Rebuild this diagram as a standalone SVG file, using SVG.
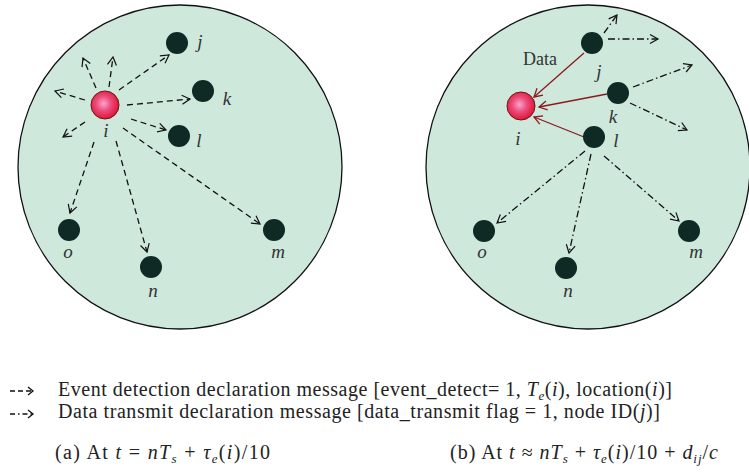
<svg xmlns="http://www.w3.org/2000/svg" width="749" height="473" viewBox="0 0 749 473">
<defs>
<radialGradient id="redball" cx="45%" cy="45%" r="60%">
<stop offset="0" stop-color="#f5a6cc"/>
<stop offset="0.45" stop-color="#ee4a78"/>
<stop offset="1" stop-color="#d8102c"/>
</radialGradient>
<marker id="ah" markerUnits="userSpaceOnUse" markerWidth="14" markerHeight="14" refX="10" refY="6" orient="auto">
<path d="M2,1.5 L10,6 L2,10.5" fill="none" stroke="#111" stroke-width="1.2"/>
</marker>
<marker id="ahr" markerUnits="userSpaceOnUse" markerWidth="14" markerHeight="14" refX="10" refY="6" orient="auto">
<path d="M2,1.5 L10,6 L2,10.5" fill="none" stroke="#8a1a1e" stroke-width="1.3"/>
</marker>
<marker id="ahs" markerUnits="userSpaceOnUse" markerWidth="10" markerHeight="12" refX="7" refY="5" orient="auto">
<path d="M2,1 L7,5 L2,9" fill="none" stroke="#111" stroke-width="1.3"/>
</marker>
</defs>
<style>
.area{fill:#cfe8dc;stroke:#111;stroke-width:1.3}
.nd{fill:#0f2a25}
.red{fill:url(#redball);stroke:#6a1418;stroke-width:1}
.lbl{font-family:"Liberation Serif",serif;font-style:italic;font-size:19px;fill:#333;text-anchor:middle}
.ev{stroke:#111;stroke-width:1.3;stroke-dasharray:6 4;fill:none;marker-end:url(#ah)}
.dt{stroke:#111;stroke-width:1.3;stroke-dasharray:7 3 1.5 3;fill:none;marker-end:url(#ah)}
.da{stroke:#8a1a1e;stroke-width:1.3;fill:none;marker-end:url(#ahr)}
.txt{font-family:"Liberation Serif",serif;font-size:20px;fill:#222}
.dl{font-family:"Liberation Serif",serif;font-size:18px;fill:#333}
.it{font-style:italic}
.sub{font-size:13px}
</style>

<circle class="area" cx="180" cy="167" r="162"/>
<circle class="area" cx="588" cy="167" r="162"/>

<g id="connectors">
<line class="ev" x1="119" y1="90" x2="169" y2="55"/>
<line class="ev" x1="127" y1="105" x2="190" y2="99"/>
<line class="ev" x1="131" y1="119" x2="166" y2="130"/>
<line class="ev" x1="123" y1="128" x2="260" y2="224"/>
<line class="ev" x1="116" y1="141" x2="147" y2="252"/>
<line class="ev" x1="94" y1="142" x2="70" y2="213"/>
<line class="ev" x1="85" y1="100" x2="55" y2="91"/>
<line class="ev" x1="96" y1="88" x2="83" y2="58"/>
<line class="ev" x1="109" y1="87" x2="113" y2="57"/>
<line class="ev" x1="85" y1="122" x2="63" y2="137"/>
<line class="da" x1="584" y1="53" x2="534" y2="97"/>
<line class="da" x1="607" y1="94" x2="539" y2="107"/>
<line class="da" x1="584" y1="137" x2="534" y2="117"/>
<line class="dt" x1="604" y1="33" x2="617" y2="15"/>
<line class="dt" x1="608" y1="39" x2="658" y2="39"/>
<line class="dt" x1="633" y1="87" x2="692" y2="65"/>
<line class="dt" x1="630" y1="103" x2="687" y2="130"/>
<line class="dt" x1="585" y1="151" x2="497" y2="223"/>
<line class="dt" x1="591" y1="154" x2="569" y2="253"/>
<line class="dt" x1="604" y1="156" x2="679" y2="221"/>
</g>

<g id="a-i"><circle class="red" cx="105" cy="105" r="14"/><text class="lbl" x="106" y="137">i</text></g>
<g id="a-j"><circle class="nd" cx="177" cy="43" r="11"/><text class="lbl" x="200" y="48">j</text></g>
<g id="a-k"><circle class="nd" cx="203" cy="91" r="11"/><text class="lbl" x="227" y="105">k</text></g>
<g id="a-l"><circle class="nd" cx="179" cy="136" r="11"/><text class="lbl" x="199" y="147">l</text></g>
<g id="a-o"><circle class="nd" cx="69" cy="230" r="11"/><text class="lbl" x="68" y="258">o</text></g>
<g id="a-n"><circle class="nd" cx="151" cy="267" r="11"/><text class="lbl" x="153" y="297">n</text></g>
<g id="a-m"><circle class="nd" cx="274" cy="230" r="11"/><text class="lbl" x="278" y="258">m</text></g>

<g id="b-i"><circle class="red" cx="521" cy="106" r="14"/><text class="lbl" x="518" y="145">i</text></g>
<g id="b-j"><circle class="nd" cx="592" cy="43" r="11"/><text class="lbl" x="599" y="78">j</text></g>
<g id="b-k"><circle class="nd" cx="618" cy="93" r="11"/><text class="lbl" x="613" y="123">k</text></g>
<g id="b-l"><circle class="nd" cx="594" cy="137" r="11"/><text class="lbl" x="616" y="147">l</text></g>
<g id="b-o"><circle class="nd" cx="484" cy="231" r="11"/><text class="lbl" x="482" y="258">o</text></g>
<g id="b-n"><circle class="nd" cx="566" cy="268" r="11"/><text class="lbl" x="568" y="297">n</text></g>
<g id="b-m"><circle class="nd" cx="689" cy="231" r="11"/><text class="lbl" x="696" y="258">m</text></g>
<text class="dl" x="540" y="65" text-anchor="middle">Data</text>

<g id="legend">
<line x1="10" y1="391" x2="33" y2="391" stroke="#111" stroke-width="1.3" stroke-dasharray="5 3" marker-end="url(#ahs)"/>
<line x1="10" y1="414" x2="33" y2="414" stroke="#111" stroke-width="1.3" stroke-dasharray="5 3 1.5 3" marker-end="url(#ahs)"/>
<text class="txt" x="58" y="396" textLength="614" lengthAdjust="spacing">Event detection declaration message [event_detect= 1, <tspan class="it">T</tspan><tspan class="sub it" dy="4">e</tspan><tspan dy="-4">(</tspan><tspan class="it">i</tspan>), location(<tspan class="it">i</tspan>)]</text>
<text class="txt" x="58" y="418" textLength="602" lengthAdjust="spacing">Data transmit declaration message [data_transmit flag = 1, node ID(<tspan class="it">j</tspan>)]</text>
<text class="txt" x="55" y="459" textLength="215" lengthAdjust="spacing">(a) At <tspan class="it">t</tspan> = <tspan class="it">nT</tspan><tspan class="sub it" dy="4">s</tspan><tspan dy="-4"> + </tspan><tspan class="it">τ</tspan><tspan class="sub it" dy="4">e</tspan><tspan dy="-4">(</tspan><tspan class="it">i</tspan>)/10</text>
<text class="txt" x="450" y="459" textLength="268" lengthAdjust="spacing">(b) At <tspan class="it">t</tspan> ≈ <tspan class="it">nT</tspan><tspan class="sub it" dy="4">s</tspan><tspan dy="-4"> + </tspan><tspan class="it">τ</tspan><tspan class="sub it" dy="4">e</tspan><tspan dy="-4">(</tspan><tspan class="it">i</tspan>)/10 + <tspan class="it">d</tspan><tspan class="sub it" dy="4">ij</tspan><tspan dy="-4">/</tspan><tspan class="it">c</tspan></text>
</g>
</svg>
